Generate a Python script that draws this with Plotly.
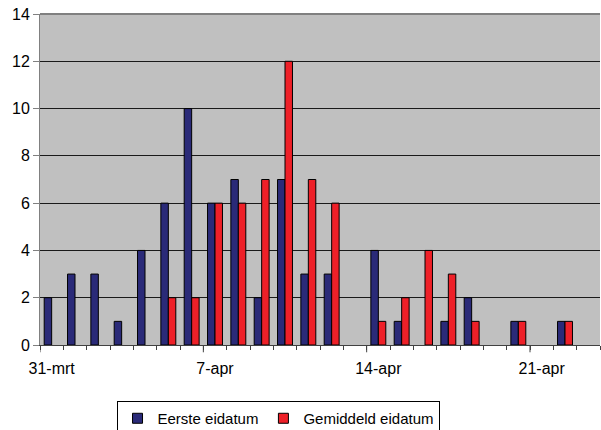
import plotly.graph_objects as go

dates = ["31-mrt", "1-apr", "2-apr", "3-apr", "4-apr", "5-apr", "6-apr", "7-apr",
         "8-apr", "9-apr", "10-apr", "11-apr", "12-apr", "13-apr", "14-apr", "15-apr",
         "16-apr", "17-apr", "18-apr", "19-apr", "20-apr", "21-apr", "22-apr", "23-apr"]
eerste = [2, 3, 3, 1, 4, 6, 10, 6, 7, 2, 7, 3, 3, 0, 4, 1, 0, 1, 2, 0, 1, 0, 1, 0]
gemiddeld = [0, 0, 0, 0, 0, 2, 2, 6, 6, 7, 12, 7, 6, 0, 1, 2, 4, 3, 1, 0, 1, 0, 1, 0]
shown_labels = ["31-mrt", "7-apr", "14-apr", "21-apr"]
y_ticks = [0, 2, 4, 6, 8, 10, 12, 14]

BLUE = "#2A2A78"
RED = "#EE2028"


def nz(vals):
    return [v if v else None for v in vals]


fig = go.Figure()
fig.add_trace(go.Bar(x=dates, y=nz(eerste), name="Eerste eidatum", showlegend=False,
                     marker=dict(color=BLUE, line=dict(color="black", width=1))))
fig.add_trace(go.Bar(x=dates, y=nz(gemiddeld), name="Gemiddeld eidatum", showlegend=False,
                     marker=dict(color=RED, line=dict(color="black", width=1))))
# legend entries
for nm, col in [("Eerste eidatum", BLUE), ("Gemiddeld eidatum", RED)]:
    fig.add_trace(go.Scatter(x=[None], y=[None], mode="markers", name=nm,
                             marker=dict(symbol="square", size=10, color=col,
                                         line=dict(color="black", width=1))))

ticktext = [d if d in shown_labels else "" for d in dates]

fig.update_layout(
    width=601, height=430,
    margin=dict(l=40, r=1, t=14, b=85, autoexpand=False),
    paper_bgcolor="white",
    plot_bgcolor="#C0C0C0",
    barmode="group",
    bargap=0.36,
    bargroupgap=0,
    font=dict(family="Liberation Sans, Arial, sans-serif", size=16, color="black"),
    xaxis=dict(
        type="category",
        range=[-0.5, 23.5],
        tickvals=dates,
        ticktext=ticktext,
        tickangle=0,
        tickson="boundaries",
        ticks="outside",
        ticklen=4,
        tickcolor="#404040",
        showgrid=False,
        showline=True,
        linecolor="#404040",
        linewidth=1,
        tickfont=dict(size=16),
        ticklabelstandoff=9,
    ),
    yaxis=dict(
        range=[0, 14],
        tickvals=y_ticks,
        showgrid=True,
        gridcolor="#1a1a1a",
        gridwidth=1,
        zeroline=False,
        showline=True,
        linecolor="#808080",
        linewidth=1,
        ticks="outside",
        ticklen=6,
        tickcolor="#808080",
        tickfont=dict(size=16),
        ticklabeloverflow="allow",
    ),
    legend=dict(
        orientation="h",
        xref="container", yref="container",
        x=0.4626, xanchor="center",
        y=0.0674, yanchor="top",
        bgcolor="white",
        bordercolor="black",
        borderwidth=1,
        font=dict(size=15),
        itemwidth=30,
        tracegroupgap=0,
        traceorder="normal",
    ),
    shapes=[
        dict(type="line", xref="paper", yref="paper", x0=0, x1=1, y0=1, y1=1,
             line=dict(color="#808080", width=2), layer="above"),
    ] + [
        dict(type="line", xref="x", yref="paper", x0=b, x1=b, y0=0, y1=-0.022,
             line=dict(color="#404040", width=1))
        for b in [-0.5, 6.5, 13.5, 20.5]
    ],
)

fig.write_html(
    "out.html",
    config={"displayModeBar": False},
    post_script="document.body.style.margin='0';document.body.style.overflow='hidden';"
                "document.documentElement.style.overflow='hidden';",
)
